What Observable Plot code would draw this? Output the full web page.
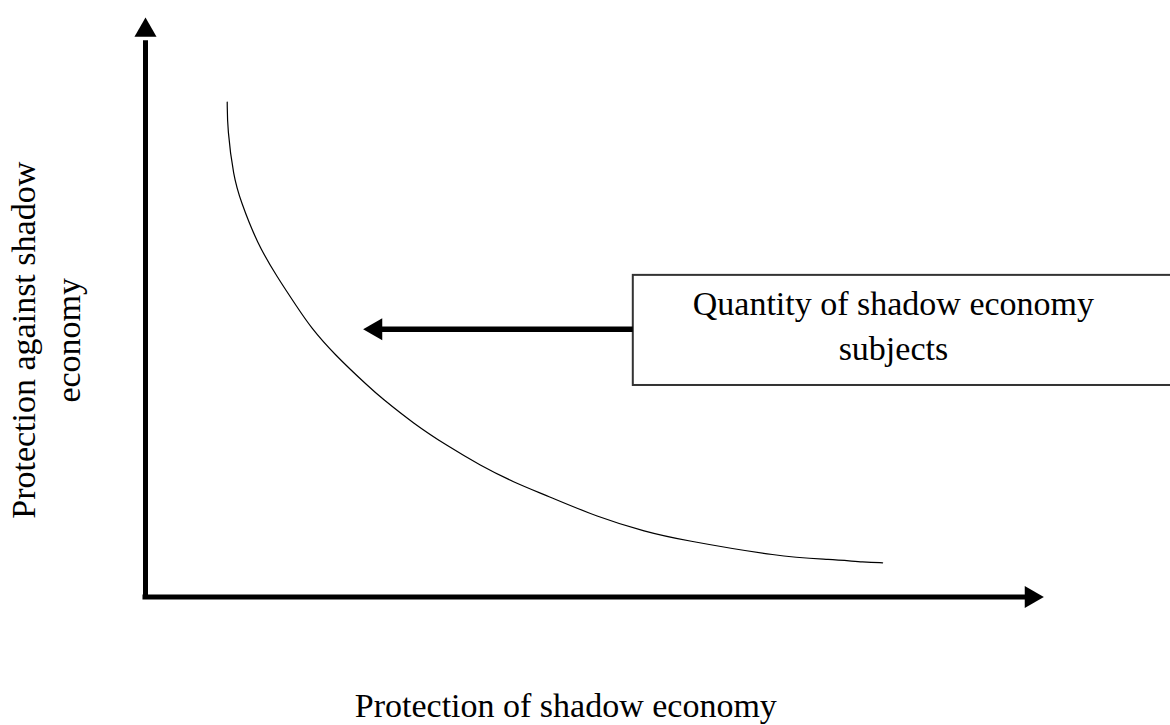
<!DOCTYPE html>
<html>
<head>
<meta charset="utf-8">
<script src="https://cdn.jsdelivr.net/npm/d3@7"></script>
<script src="https://cdn.jsdelivr.net/npm/@observablehq/plot@0.6"></script>
<style>
  html, body { margin: 0; padding: 0; background: #fff; }
</style>
</head>
<body>
<div id="chart"></div>
<script>
// Curve: protection of shadow economy (x) vs protection against it (y), schematic units 0–100
const curveX = [9.08, 9.1, 9.78, 10.56, 12.41, 14.63, 16.86, 18.33, 20.89, 25.0, 26.1, 29.8, 33.5, 37.2, 40.9, 44.6, 50.2, 55.7, 59.4, 70.6, 76.1, 80.0, 81.9];
const curveY = [85.4, 80.8, 72.5, 68.4, 61.0, 55.2, 50.0, 46.6, 42.0, 36.0, 34.5, 29.9, 26.1, 22.7, 19.8, 17.5, 13.8, 11.2, 9.9, 6.9, 6.5, 6.0, 5.9];
const xAxisLabel = "Protection of shadow economy";
const yAxisLabel = "Protection against shadow\neconomy";
const boxLabel = "Quantity of shadow economy\nsubjects";

const curve = curveX.map((x, i) => ({x, y: curveY[i]}));
const font = "'Liberation Serif', 'Times New Roman', serif";

const chart = Plot.plot({
  width: 1170,
  height: 725,
  marginLeft: 145,
  marginRight: 125,
  marginTop: 17,
  marginBottom: 128.5,
  x: {domain: [0, 100], axis: null},
  y: {domain: [0, 100], axis: null},
  style: {fontFamily: font, background: "#fff"},
  marks: [
    // Box for annotation
    Plot.rect([boxLabel], {x1: 54.2, x2: 130, y1: 36.5, y2: 55.5, fill: "white", stroke: "#333", strokeWidth: 2}),
    Plot.text([boxLabel], {x: 83.1, y: 47.2, text: d => d, fontSize: 34, lineHeight: 1.32, fill: "#000"}),
    // Arrow from box to curve
    Plot.ruleY([46.2], {x1: 26.0, x2: 54.2, stroke: "#000", strokeWidth: 5.5}),
    Plot.dot([46.2], {x: 25.6, y: d => d, symbol: "triangle", r: 8.2, rotate: -90, fill: "#000", stroke: "none"}),
    // Axes
    Plot.ruleX([0], {y1: -0.45, y2: 96, stroke: "#000", strokeWidth: 5}),
    Plot.ruleY([0], {x1: -0.28, x2: 98, stroke: "#000", strokeWidth: 5}),
    Plot.dot([0], {x: 0, y: 97.8, symbol: "triangle", r: 8.2, rotate: 0, fill: "#000", stroke: "none"}),
    Plot.dot([0], {x: 98.4, y: 0, symbol: "triangle", r: 8.2, rotate: 90, fill: "#000", stroke: "none"}),
    // Curve
    Plot.line(curve, {x: "x", y: "y", curve: "basis", stroke: "#000", strokeWidth: 1.2}),
    // Axis labels
    Plot.text([xAxisLabel], {x: 46.7, y: 0, text: d => d, dy: 120, lineAnchor: "bottom", fontSize: 34, fill: "#000"}),
    Plot.text([yAxisLabel], {x: -11.4, y: 44.3, text: d => d, rotate: -90, fontSize: 34, lineHeight: 1.32, fill: "#000"})
  ]
});
document.getElementById("chart").appendChild(chart);
</script>
</body>
</html>
